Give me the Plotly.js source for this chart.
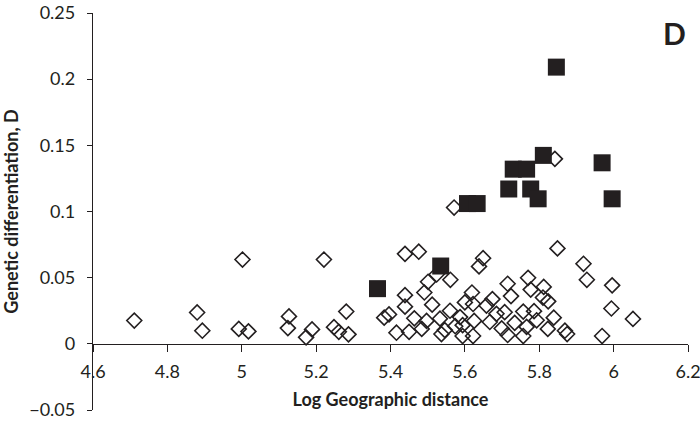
<!DOCTYPE html>
<html>
<head>
<meta charset="utf-8">
<script src="https://cdn.plot.ly/plotly-3.0.1.min.js"></script>
<style>
  body { margin: 0; background: #fff; }
  #graph-d { width: 700px; height: 429px; }
</style>
</head>
<body>
<div id="graph-d"></div>
<script>
// open diamonds
let diamond_x = [4.711, 4.880, 4.894, 5.002, 4.992, 5.018, 5.221, 5.439, 5.476, 5.501,
    5.524, 5.561, 5.491, 5.439, 5.439, 5.512, 5.281, 5.127, 5.124, 5.189,
    5.173, 5.248, 5.261, 5.287, 5.383, 5.396, 5.416, 5.450, 5.464, 5.484,
    5.497, 5.560, 5.533, 5.537, 5.546, 5.574, 5.594, 5.600, 5.587, 5.849,
    5.919, 5.928, 5.996, 5.994, 6.052, 5.969, 5.649, 5.638, 5.715, 5.724,
    5.770, 5.777, 5.812, 5.824, 5.810, 5.619, 5.674, 5.658, 5.622, 5.685,
    5.707, 5.757, 5.786, 5.839, 5.823, 5.869, 5.875, 5.625, 5.667, 5.734,
    5.766, 5.793, 5.715, 5.757, 5.594, 5.622, 5.699, 5.842, 5.571];
let diamond_y = [0.0176, 0.0237, 0.0099, 0.0637, 0.0113, 0.0094, 0.0637, 0.068, 0.0696, 0.0469,
    0.0524, 0.0484, 0.0388, 0.0368, 0.0281, 0.0296, 0.0244, 0.0207, 0.0119, 0.0109,
    0.0049, 0.0126, 0.0091, 0.0072, 0.0198, 0.0222, 0.0084, 0.0091, 0.0193, 0.0113,
    0.0173, 0.025, 0.019, 0.0074, 0.0104, 0.0133, 0.0059, 0.0313, 0.0202, 0.0721,
    0.0605, 0.0484, 0.0442, 0.0267, 0.0188, 0.0059, 0.0647, 0.0585, 0.0454, 0.0361,
    0.0499, 0.041, 0.043, 0.0321, 0.035, 0.0388, 0.0338, 0.0289, 0.0301, 0.0227,
    0.0239, 0.0244, 0.0247, 0.0198, 0.0113, 0.0099, 0.0074, 0.0173, 0.0165, 0.0158,
    0.0128, 0.0178, 0.0067, 0.0059, 0.0141, 0.0059, 0.0116, 0.1398, 0.103];

// filled squares
let square_x = [5.365, 5.535, 5.607, 5.633, 5.718, 5.777, 5.730, 5.766, 5.811, 5.846, 5.969, 5.996, 5.797];
let square_y = [0.0417, 0.0588, 0.106, 0.106, 0.117, 0.117, 0.132, 0.132, 0.1424, 0.2091, 0.1368, 0.1096, 0.1096];

let x_ticks = [4.6, 4.8, 5, 5.2, 5.4, 5.6, 5.8, 6, 6.2];
let y_ticks = [-0.05, 0, 0.05, 0.1, 0.15, 0.2, 0.25];
let y_ticktext = ['\u22120.05', '0', '0.05', '0.1', '0.15', '0.2', '0.25'];

let ink = '#231f20';
let font_main = 'Lato, "Liberation Sans", sans-serif';

let trace_diamond = {
    x: diamond_x,
    y: diamond_y,
    mode: 'markers',
    type: 'scatter',
    marker: {
        symbol: 'diamond-open',
        size: 11.5,
        color: ink,
        line: {width: 1.6, color: ink}
    },
    hoverinfo: 'x+y'
};

let trace_square = {
    x: square_x,
    y: square_y,
    mode: 'markers',
    type: 'scatter',
    marker: {
        symbol: 'square',
        size: 17,
        color: ink,
        line: {width: 0}
    },
    hoverinfo: 'x+y'
};

var layout = {
    width: 700,
    height: 429,
    margin: {l: 93, r: 12, t: 13, b: 19},
    paper_bgcolor: '#fff',
    plot_bgcolor: '#fff',
    showlegend: false,
    font: {family: font_main, size: 18, color: ink},
    xaxis: {
        range: [4.6, 6.2],
        tickvals: x_ticks,
        ticktext: x_ticks.map(String),
        anchor: 'free',
        position: 1 / 6,
        showgrid: false,
        zeroline: false,
        showline: true,
        linecolor: ink,
        linewidth: 1.3,
        ticks: 'outside',
        ticklen: 7,
        tickcolor: ink,
        tickfont: {size: 18},
        ticklabelstandoff: 4,
        ticklabeloverflow: 'allow',
        title: {text: '<b>Log Geographic distance</b>', font: {size: 18}, standoff: 12}
    },
    yaxis: {
        range: [-0.05, 0.25],
        tickvals: y_ticks,
        ticktext: y_ticktext,
        showgrid: false,
        zeroline: false,
        showline: true,
        linecolor: ink,
        linewidth: 1.3,
        ticks: 'outside',
        ticklen: 5,
        tickcolor: ink,
        tickfont: {size: 18},
        ticklabelstandoff: 8,
        ticklabeloverflow: 'allow',
        title: {text: '<b>Genetic differentiation, D</b>', font: {size: 18}, standoff: 8}
    },
    annotations: [{
        text: '<b>D</b>',
        xref: 'paper', yref: 'paper',
        x: 1.0, y: 1.0,
        xanchor: 'right', yanchor: 'top',
        showarrow: false,
        font: {size: 30, color: ink}
    }]
};

let config = {displayModeBar: false, responsive: false};

Plotly.newPlot('graph-d', [trace_diamond, trace_square], layout, config);
</script>
</body>
</html>
